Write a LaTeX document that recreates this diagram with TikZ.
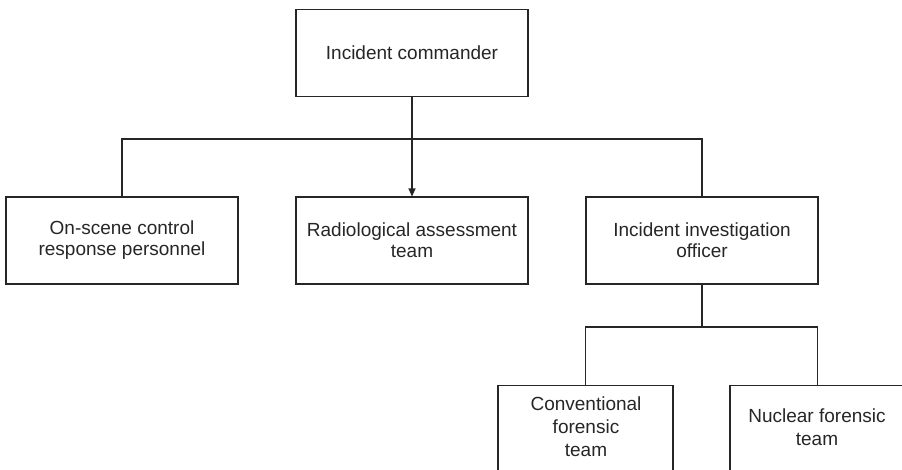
\documentclass[tikz,border=0pt]{standalone}
\usepackage{fontspec}
\setmainfont{Liberation Sans}
\usetikzlibrary{arrows.meta}
\begin{document}
\begin{tikzpicture}[x=1pt,y=-1pt,
  box/.style={draw=black!85, line width=1.1pt, rectangle, minimum width=232pt, minimum height=87pt, inner sep=0pt},
  lbl/.style={align=center, inner sep=0pt, font=\fontsize{19}{20.5}\selectfont, text=black!85},
  lblb/.style={align=center, inner sep=0pt, font=\fontsize{19}{23}\selectfont, text=black!85},
  conn/.style={draw=black!85, line width=1.1pt}]
\useasboundingbox (0,0) rectangle (902,469);
\clip (0,0) rectangle (902,469);
% top
\node[box] (cmd) at (412,53) {};
\node[lbl] (cmdt) at (412,53) {Incident commander};
% row 2
\node[box] (osc) at (122,240.5) {};
\node[lbl] (osct) at (122,240) {On-scene control\\response personnel};
\node[box] (rad) at (412,240.5) {};
\node[lbl] (radt) at (412,240) {Radiological assessment\\team};
\node[box] (iio) at (702,240.5) {};
\node[lbl] (iiot) at (702,240) {Incident investigation\\officer};
% row 3
\node[box, minimum width=175pt, minimum height=140pt, anchor=north] (cft) at (585.5,385) {};
\node[lblb] (cftt) at (586,427) {Conventional\\forensic\\team};
\node[box, minimum width=175pt, minimum height=140pt, anchor=north] (nft) at (817.5,385) {};
\node[lblb] (nftt) at (817,427) {Nuclear forensic\\team};
% connectors
\coordinate (bus) at (412,139);
\draw[conn, -{Triangle[length=8pt,width=7pt]}] (cmd.south) -- (rad.north);
\draw[conn] (osc.north) |- (bus) -| (iio.north);
\coordinate (bus2) at (702,327);
\draw[conn] (iio.south) -- (bus2);
\draw[conn] (cft.north) |- (bus2) -| (nft.north);
\end{tikzpicture}
\end{document}
